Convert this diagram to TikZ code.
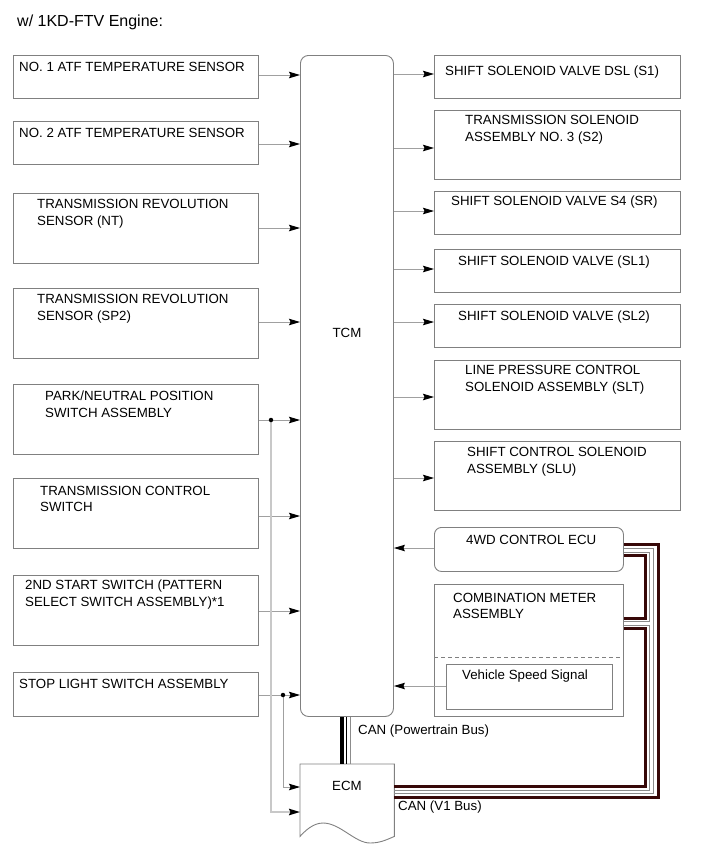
\documentclass[tikz,border=0pt]{standalone}
\usepackage{fontspec}
\setmainfont{Liberation Sans}
\usetikzlibrary{arrows.meta}
\definecolor{bordergray}{RGB}{128,128,128}
\definecolor{linegray}{RGB}{160,160,160}
\definecolor{paleline}{RGB}{200,200,200}
\definecolor{candark}{RGB}{55,8,8}
\definecolor{cangray}{RGB}{140,140,140}
\newcommand\fs{\fontsize{13.3}{16.5}\selectfont}
\begin{document}
\begin{tikzpicture}[x=1pt,y=-1pt,
  box/.style={draw=bordergray, line width=0.9pt, inner sep=0pt, anchor=north west, fill=white},
  rbox/.style={box, rounded corners=7pt},
  lbl/.style={anchor=west, inner sep=0pt, align=left, font=\fs},
  conn/.style={draw=linegray, line width=1pt, -{Stealth[length=11pt,width=6.5pt,inset=1.5pt,black]}},
  paleconn/.style={draw=paleline, line width=1.6pt, -{Stealth[length=11pt,width=6.5pt,inset=1.5pt,black]}},
  jdot/.style={circle, fill=black, inner sep=0pt, minimum size=4.5pt},
  candk/.style={draw=candark, line width=3pt},
  cangr/.style={draw=cangray, line width=1pt},
  pt/.style={draw=black, line width=4pt}
]
\useasboundingbox (0,0) rectangle (713,855);
\node[anchor=west, inner sep=0pt, font=\fontsize{16}{18}\selectfont] (title) at (17,22) {w/ 1KD-FTV Engine:};

% left boxes
\node[box, minimum width=245pt, minimum height=43pt] (l1) at (13,55) {};
\node[box, minimum width=245pt, minimum height=43pt] (l2) at (13,121) {};
\node[box, minimum width=245pt, minimum height=70pt] (l3) at (13,193) {};
\node[box, minimum width=245pt, minimum height=70pt] (l4) at (13,288) {};
\node[box, minimum width=245pt, minimum height=70pt] (l5) at (13,384) {};
\node[box, minimum width=245pt, minimum height=70pt] (l6) at (13,478) {};
\node[box, minimum width=245pt, minimum height=70pt] (l7) at (13,575) {};
\node[box, minimum width=245pt, minimum height=44pt] (l8) at (13,672) {};

\node[lbl] (t1) at (19,67) {NO. 1 ATF TEMPERATURE SENSOR};
\node[lbl] (t2) at (19,133) {NO. 2 ATF TEMPERATURE SENSOR};
\node[lbl] (t3) at (37,213.5) {TRANSMISSION REVOLUTION\\SENSOR (NT)};
\node[lbl] (t4) at (37,308.5) {TRANSMISSION REVOLUTION\\SENSOR (SP2)};
\node[lbl] (t5) at (45,404) {PARK/NEUTRAL POSITION\\SWITCH ASSEMBLY};
\node[lbl] (t6) at (40,499) {TRANSMISSION CONTROL\\SWITCH};
\node[lbl] (t7) at (25,594.5) {2ND START SWITCH (PATTERN\\SELECT SWITCH ASSEMBLY)*1};
\node[lbl] (t8) at (19,684) {STOP LIGHT SWITCH ASSEMBLY};

% TCM
\node[box, rounded corners=8pt, minimum width=93pt, minimum height=661pt] (tcm) at (300,55) {};
\node[font=\fs, inner sep=0pt] (tcmt) at (347,333) {TCM};

% right boxes
\node[box, minimum width=246pt, minimum height=43pt] (r1) at (434,55) {};
\node[box, minimum width=246pt, minimum height=69pt] (r2) at (434,110) {};
\node[box, minimum width=246pt, minimum height=43pt] (r3) at (434,191) {};
\node[box, minimum width=246pt, minimum height=43pt] (r4) at (434,249) {};
\node[box, minimum width=246pt, minimum height=43pt] (r5) at (434,304) {};
\node[box, minimum width=246pt, minimum height=69pt] (r6) at (434,360) {};
\node[box, minimum width=246pt, minimum height=69pt] (r7) at (434,441) {};
\node[rbox, minimum width=189pt, minimum height=44pt] (r8) at (434,527) {};
\node[box, minimum width=189pt, minimum height=132pt] (r9) at (434,584) {};
\draw[draw=bordergray, line width=0.8pt, dash pattern=on 4pt off 3pt] (r9.west |- 0,657) -- (r9.east |- 0,657);
\node[box, minimum width=166pt, minimum height=45pt] (vss) at (446,664) {};

\node[lbl] (u1) at (445,72) {SHIFT SOLENOID VALVE DSL (S1)};
\node[lbl] (u2) at (465,129.5) {TRANSMISSION SOLENOID\\ASSEMBLY NO. 3 (S2)};
\node[lbl] (u3) at (451,202) {SHIFT SOLENOID VALVE S4 (SR)};
\node[lbl] (u4) at (458,262) {SHIFT SOLENOID VALVE (SL1)};
\node[lbl] (u5) at (458,317) {SHIFT SOLENOID VALVE (SL2)};
\node[lbl] (u6) at (465,379.5) {LINE PRESSURE CONTROL\\SOLENOID ASSEMBLY (SLT)};
\node[lbl] (u7) at (467,461.5) {SHIFT CONTROL SOLENOID\\ASSEMBLY (SLU)};
\node[lbl] (u8) at (466,540) {4WD CONTROL ECU};
\node[lbl] (u9) at (453,606) {COMBINATION METER\\ASSEMBLY};
\node[lbl] (u10) at (462,676) {Vehicle Speed Signal};

% ECM
\node[minimum width=94pt, minimum height=72pt, inner sep=0pt, anchor=north west] (ecm) at (300,764) {};
\draw[draw=bordergray, line width=0.9pt, fill=white]
  (ecm.south west) -- (ecm.north west) -- (ecm.north east) -- (ecm.south east)
  .. controls (386,840) and (380,843) .. (370,843)
  .. controls (355,843) and (340,823) .. (323,823)
  .. controls (313,823) and (305,831) .. (ecm.south west) -- cycle;
\node[font=\fs, inner sep=0pt] (ecmt) at (347,786) {ECM};

% left connectors
\draw[conn] (l1.east |- 0,75) -- (tcm.west |- 0,75);
\draw[conn] (l2.east |- 0,144) -- (tcm.west |- 0,144);
\draw[conn] (l3.east |- 0,228) -- (tcm.west |- 0,228);
\draw[conn] (l4.east |- 0,322) -- (tcm.west |- 0,322);
\draw[conn] (l5.east |- 0,420) -- (tcm.west |- 0,420);
\draw[conn] (l6.east |- 0,516) -- (tcm.west |- 0,516);
\draw[conn] (l7.east |- 0,611) -- (tcm.west |- 0,611);
\draw[conn] (l8.east |- 0,695) -- (tcm.west |- 0,695);

% branches to ECM
\coordinate (j1) at (271,420);
\coordinate (j2) at (283,695);
\draw[paleconn] (j1) -- (271,812) -- (ecm.west |- 0,812);
\draw[conn] (j2) -- (283,787) -- (ecm.west |- 0,787);
\node[jdot] (d1) at (j1) {};
\node[jdot] (d2) at (j2) {};

% right connectors
\draw[conn] (tcm.east |- 0,74) -- (r1.west |- 0,74);
\draw[conn] (tcm.east |- 0,148) -- (r2.west |- 0,148);
\draw[conn] (tcm.east |- 0,211) -- (r3.west |- 0,211);
\draw[conn] (tcm.east |- 0,269) -- (r4.west |- 0,269);
\draw[conn] (tcm.east |- 0,322) -- (r5.west |- 0,322);
\draw[conn] (tcm.east |- 0,397) -- (r6.west |- 0,397);
\draw[conn] (tcm.east |- 0,478) -- (r7.west |- 0,478);
\draw[conn] (r8.west |- 0,548) -- (tcm.east |- 0,548);
\draw[conn] (vss.west |- 0,686) -- (tcm.east |- 0,686);

% CAN powertrain bus
\draw[pt] (341.5,0 |- tcm.south) -- (341.5,0 |- ecm.north);
\draw[draw=black, line width=1.6pt] (346.5,0 |- tcm.south) -- (346.5,0 |- ecm.north);
\draw[draw=cangray, line width=1pt] (350.5,0 |- tcm.south) -- (350.5,0 |- ecm.north);
\node[lbl] (canpt) at (358,731) {CAN (Powertrain Bus)};

% CAN V1 bus
\draw[candk] (r8.east |- 0,544) -- (658,544) -- (658,797) -- (ecm.east |- 0,797);
\draw[cangr] (r8.east |- 0,548) -- (653,548) -- (653,793) -- (ecm.east |- 0,793);
\draw[cangr] (r8.east |- 0,552) -- (649,552) -- (649,621) -- (r9.east |- 0,621);
\draw[cangr] (r9.east |- 0,625) -- (649,625) -- (649,790) -- (ecm.east |- 0,790);
\draw[candk] (r8.east |- 0,555) -- (645,555) -- (645,618) -- (r9.east |- 0,618);
\draw[candk] (r9.east |- 0,628) -- (645,628) -- (645,786) -- (ecm.east |- 0,786);
\node[lbl] (canv1) at (398,807) {CAN (V1 Bus)};
\end{tikzpicture}
\end{document}
